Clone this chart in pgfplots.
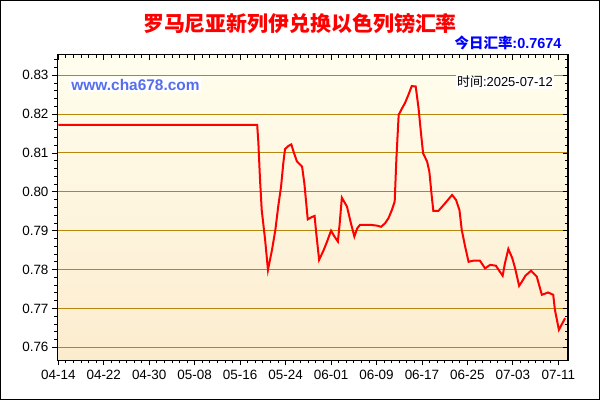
\documentclass[border=0pt]{standalone}
\usepackage{pgfplots}
\pgfplotsset{compat=1.18}
\usepackage{fontspec}
\setmainfont{Liberation Sans}
\newfontfamily\cjk{Noto Sans CJK SC}
\definecolor{gridc}{RGB}{184,134,11}
\definecolor{bgtop}{RGB}{255,254,238}
\definecolor{bgbot}{RGB}{252,236,206}
\definecolor{wm}{RGB}{85,110,235}
\begin{document}
\begin{tikzpicture}
\useasboundingbox (0bp,0bp) rectangle (600bp,400bp);
\draw[line width=1bp] (0.5bp,0.5bp) rectangle (599.5bp,399.5bp);
\begin{axis}[
  at={(57bp,39.5bp)}, anchor=south west,
  scale only axis, width=511bp, height=305.5bp,
  xmin=-0.23, xmax=89.7, ymin=0.7566, ymax=0.8352,
  axis background/.style={shade, top color=bgtop, bottom color=bgbot},
  axis line style={line width=1bp},
  xtick={0,8,...,88},
  xticklabels={04-14,04-22,04-30,05-08,05-16,05-24,06-01,06-09,06-17,06-25,07-03,07-11},
  minor x tick num=5,
  ytick={0.76,0.77,...,0.835},
  minor y tick num=4,
  xtick pos=left, ytick pos=left,
  tick align=outside,
  major tick length=5bp, minor tick length=3bp,
  tick style={black, line width=0.8bp},
  ymajorgrids, grid style={gridc, line width=1bp},
  yticklabel style={/pgf/number format/.cd, fixed, fixed zerofill, precision=2, assume math mode=true},
  ticklabel style={font=\fontsize{13.5}{16}\selectfont},
  xticklabel style={yshift=-1bp},
]
\addplot[red, line width=2bp] coordinates {
(0,0.8172) (35.0,0.8172) (35.2,0.8129) (35.5,0.8031) (35.8,0.7953) (36.4,0.7876)
(36.9,0.7799) (37.6,0.7850) (38.2,0.7902) (38.7,0.7962) (39.2,0.8013) (39.6,0.8074)
(39.9,0.8110) (40.5,0.8118) (41.0,0.8122) (41.5,0.8099) (42.0,0.8078) (42.9,0.8065)
(43.3,0.8022) (43.9,0.7929) (44.6,0.7935) (45.1,0.7938) (45.4,0.7893) (45.9,0.7825)
(46.7,0.7850) (47.3,0.7872) (48.0,0.7900) (48.6,0.7885) (49.2,0.7872) (49.5,0.7915)
(49.9,0.7985) (50.8,0.7962) (51.5,0.7919) (52.1,0.7885) (52.6,0.7906) (53.1,0.7915)
(54.9,0.7915) (56.1,0.7913) (56.8,0.7910) (57.5,0.7919) (58.1,0.7932) (58.7,0.7953)
(59.2,0.7975) (59.5,0.8086) (59.9,0.8198) (60.5,0.8215) (61.0,0.8228) (61.6,0.8249)
(62.2,0.8272) (62.9,0.8271) (63.4,0.8215) (63.8,0.8155) (64.2,0.8099) (64.9,0.8078)
(65.3,0.8052) (65.7,0.7992) (66.0,0.7951) (66.9,0.7951) (68.1,0.7971) (69.3,0.7992)
(70.0,0.7979) (70.6,0.7953) (71.0,0.7902) (71.6,0.7859) (72.2,0.7820) (73.1,0.7823)
(74.2,0.7823) (75.1,0.7803) (76.0,0.7812) (77.0,0.7810) (78.2,0.7784) (78.6,0.7816)
(79.2,0.7853) (79.9,0.7829) (80.4,0.7803) (81.1,0.7758) (81.6,0.7769) (82.2,0.7784)
(83.2,0.7797) (84.2,0.7782) (85.1,0.7735) (86.2,0.7741) (87.1,0.7735) (87.4,0.7696)
(88.1,0.7645) (89.2,0.7675)
};
\end{axis}
\begin{axis}[
  at={(57bp,39.5bp)}, anchor=south west,
  scale only axis, width=511bp, height=305.5bp,
  xmin=-0.23, xmax=89.7, ymin=0.7566, ymax=0.8352,
  axis line style={line width=1bp},
  xtick={0,8,...,88}, minor x tick num=5,
  ytick={0.76,0.77,...,0.835}, minor y tick num=4,
  xtick pos=right, ytick pos=right,
  tick align=inside,
  major tick length=5bp, minor tick length=3bp,
  tick style={black, line width=0.8bp},
  xticklabels={}, yticklabels={},
]
\addplot[draw=none] coordinates {(0,0.8)};
\end{axis}
\node[fill=white, inner sep=1.5bp, text=wm, font=\fontsize{15.5}{18}\bfseries\selectfont] at (135.5bp,315.5bp) {www.cha678.com};
\node[fill=white, inner sep=1bp, font=\fontsize{13}{15}\selectfont] at (505bp,318.3bp) {{\cjk 时间}:2025-07-12};
\node[text=red, font=\fontsize{21}{24}\cjk\bfseries\selectfont] at (300bp,376bp) {罗马尼亚新列伊兑换以色列镑汇率};
\node[anchor=east, text=blue, font=\fontsize{14.5}{17}\bfseries\selectfont] at (565bp,357.5bp) {{\cjk 今日汇率}:0.7674};
\end{tikzpicture}
\end{document}
